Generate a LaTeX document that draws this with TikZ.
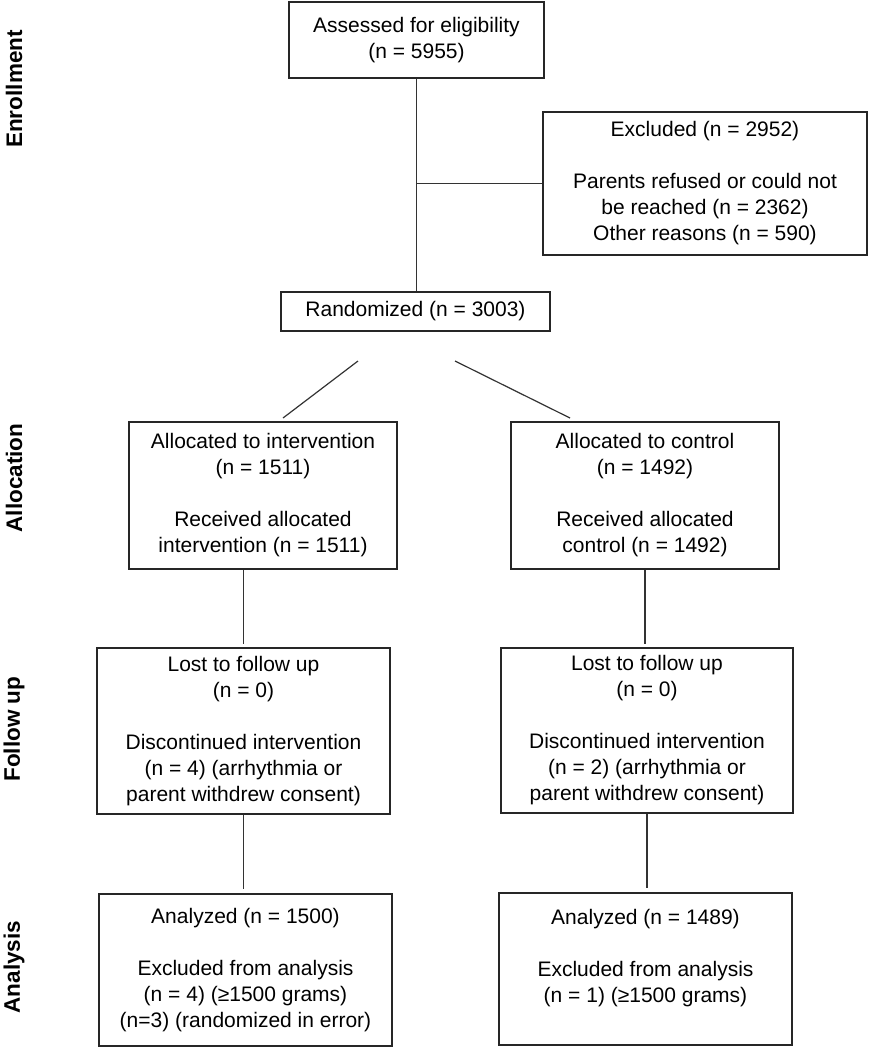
\documentclass[tikz,border=0pt]{standalone}
\usepackage{fontspec}
\setmainfont{Liberation Sans}
\usetikzlibrary{positioning}

\tikzset{
  box/.style={draw=black!85, line width=1.4pt, align=center, inner sep=0pt,
    font=\fontsize{21}{26}\selectfont},
  link/.style={draw=black!80, line width=1.2pt},
  phase/.style={rotate=90, inner sep=1pt, font=\fontsize{22.5}{26}\selectfont\bfseries}
}

\begin{document}
\begin{tikzpicture}[x=1pt, y=-1pt]
  \useasboundingbox (0,0) rectangle (870,1050);
  % Phase labels
  \node[phase] (enrol) at (14,89) {Enrollment};
  \node[phase] (alloc) at (14,478) {Allocation};
  \node[phase] (follow) at (14,729) {Follow up};
  \node[phase] (analys) at (14,967) {Analysis};
  % Enrollment
  \node[box, minimum width=255pt, minimum height=76pt] (assess) at (416.5,40)
    {Assessed for eligibility\\(n = 5955)};
  \node[box, minimum width=324pt, minimum height=143pt] (excl) at (705,183.5)
    {Excluded (n = 2952)\\[26pt]Parents refused or could not\\be reached (n = 2362)\\Other reasons (n = 590)};
  \node[box, minimum width=269pt, minimum height=39pt] (rand) at (415.5,311.5)
    {Randomized (n = 3003)};
  % Allocation
  \node[box, minimum width=268pt, minimum height=147pt] (allocInt) at (263,495.5)
    {Allocated to intervention\\(n = 1511)\\[26pt]Received allocated\\intervention (n = 1511)};
  \node[box, minimum width=268pt, minimum height=147pt] (allocCtl) at (645,495.5)
    {Allocated to control\\(n = 1492)\\[26pt]Received allocated\\control (n = 1492)};
  % Follow up
  \node[box, minimum width=293pt, minimum height=166pt] (lostInt) at (243.5,731)
    {Lost to follow up\\(n = 0)\\[26pt]Discontinued intervention\\(n = 4) (arrhythmia or\\parent withdrew consent)};
  \node[box, minimum width=292pt, minimum height=165pt] (lostCtl) at (647,730.5)
    {Lost to follow up\\(n = 0)\\[26pt]Discontinued intervention\\(n = 2) (arrhythmia or\\parent withdrew consent)};
  % Analysis
  \node[box, minimum width=293pt, minimum height=152pt] (anaInt) at (245.5,970)
    {Analyzed (n = 1500)\\[26pt]Excluded from analysis\\(n = 4) (≥1500 grams)\\(n=3) (randomized in error)};
  \node[box, minimum width=293pt, minimum height=152pt] (anaCtl) at (645.5,969)
    {Analyzed (n = 1489)\\[26pt]Excluded from analysis\\(n = 1) (≥1500 grams)\\};
  % Connectors
  \coordinate (branch) at (assess.south |- excl.west);
  \draw[link] (assess.south) -- (assess.south |- rand.north);
  \draw[link] (branch) -- (excl.west);
  \coordinate (splitL) at (358,361);
  \coordinate (armL) at (283,418);
  \coordinate (splitR) at (455,361);
  \coordinate (armR) at (570,418);
  \draw[link] (splitL) -- (armL);
  \draw[link] (splitR) -- (armR);
  \draw[link] (lostInt.north |- allocInt.south) -- ([yshift=3pt]lostInt.north);
  \draw[link] (allocCtl.south) -- ([yshift=3pt]allocCtl.south |- lostCtl.north);
  \draw[link] (lostInt.south) -- ([yshift=4pt]lostInt.south |- anaInt.north);
  \draw[link] (lostCtl.south) -- ([yshift=4pt]lostCtl.south |- anaCtl.north);
\end{tikzpicture}
\end{document}
